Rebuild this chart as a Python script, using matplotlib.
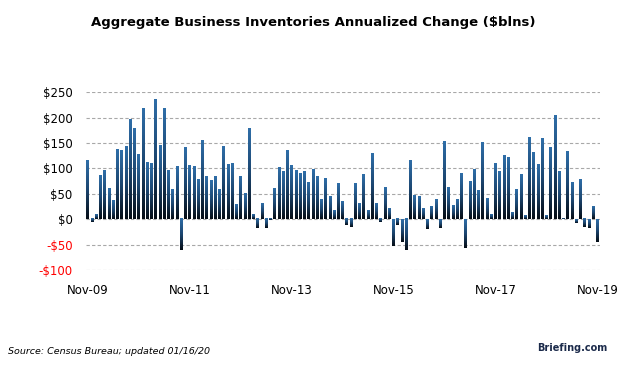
import numpy as np
import matplotlib.pyplot as plt
from matplotlib.colors import LinearSegmentedColormap
from matplotlib.ticker import FuncFormatter

# monthly annualized change, Nov-09 .. Nov-19 ($blns)
values = [
    115, -6, 9, 86, 96, 59, 36, 136, 135, 143,
    195, 177, 126, 218, 111, 110, 234, 145, 218, 96,
    58, 103, -61, 141, 106, 104, 78, 155, 83, 76,
    84, 58, 143, 108, 110, 29, 83, 51, 177, 9,
    -18, 31, -18, -2, 59, 101, 93, 135, 106, 96,
    89, 93, 71, 98, 84, 39, 79, 44, 17, 69,
    34, -12, -16, 69, 31, 88, 16, 128, 31, -6,
    61, 21, -53, -12, -44, -61, 115, 46, 44, 21,
    -19, 24, 39, -17, 153, 61, 27, 39, 89, -56,
    74, 98, 56, 151, 41, 9, 110, 93, 125, 120,
    12, 58, 88, 7, 161, 130, 108, 158, 7, 140,
    203, 93, 0.5, 133, 71, -7, 78, -16, -17, 24,
    -44,
]
tick_labels = ["Nov-09", "Nov-11", "Nov-13", "Nov-15", "Nov-17", "Nov-19"]
y_ticks = [-100, -50, 0, 50, 100, 150, 200, 250]

plt.rcParams['font.family'] = ['DejaVu Sans']

fig = plt.figure(figsize=(6.26, 3.67), dpi=100)
ax = fig.add_axes([0.137, 0.264, 0.821, 0.485])

cmap = LinearSegmentedColormap.from_list('bar', ['#050d16', '#1c4670', '#2f6ea8'])
grad = np.linspace(0, 1, 64).reshape(-1, 1)
w = 0.35
for i, v in enumerate(values):
    lo, hi = min(0, v), max(0, v)
    ax.imshow(grad, cmap=cmap, aspect='auto', origin='lower',
              extent=[i - w, i + w, lo, hi], zorder=3, interpolation='bilinear')

ax.set_xlim(-0.5, 120.5)
ax.set_ylim(-100, 250)
ax.set_yticks(y_ticks)
ax.yaxis.set_major_formatter(FuncFormatter(
    lambda v, p: ('-$%d' % -v) if v < 0 else ('$%d' % v)))
for t, v in zip(ax.get_yticklabels(), y_ticks):
    t.set_color('red' if v < 0 else 'black')
ax.set_xticks(range(0, 121, 24))
ax.set_xticklabels(tick_labels)
ax.tick_params(length=0, labelsize=8.5)
ax.tick_params(axis='y', pad=9.5)
ax.tick_params(axis='x', pad=10)
ax.grid(axis='y', color='#a8a8a8', linestyle=(0, (3, 2)), linewidth=0.8, zorder=0)
for s in ax.spines.values():
    s.set_visible(False)

fig.text(0.5, 0.94, 'Aggregate Business Inventories Annualized Change ($blns)',
         ha='center', va='center', fontsize=9.5, fontweight='bold')
fig.text(0.013, 0.043, 'Source: Census Bureau; updated 01/16/20',
         ha='left', va='center', fontsize=6.8, style='italic')
fig.text(0.97, 0.052, 'Briefing.com', ha='right', va='center',
         fontsize=7, fontweight='bold', color='#1b2a4a')

fig.savefig('out.png', dpi=100)
